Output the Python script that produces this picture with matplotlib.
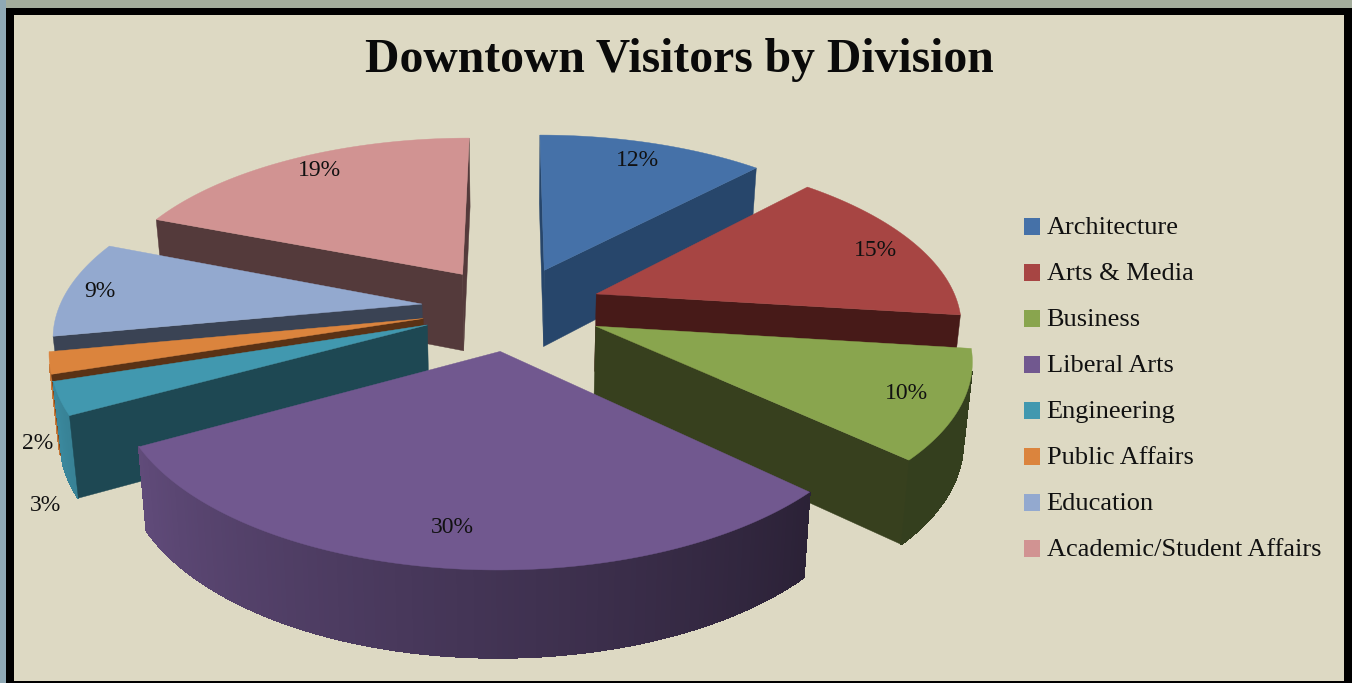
import numpy as np
import matplotlib
matplotlib.use('Agg')
import matplotlib.pyplot as plt
from matplotlib.patches import Polygon, Patch, Rectangle, FancyBboxPatch

divisions = ['Architecture', 'Arts & Media', 'Business', 'Liberal Arts', 'Engineering',
             'Public Affairs', 'Education', 'Academic/Student Affairs']
percent = [12, 15, 10, 30, 3, 2, 9, 19]
top_colors = ['#4571A8', '#A74543', '#89A54E', '#71588F', '#4198AF', '#DB843D', '#93A9CF', '#D19392']
face_colors = ['#27466B', '#471A18', '#37401E', '#2A2038', '#1E4853', '#5A3215', '#3A4354', '#543A3B']

# label placement: radius on the slice, extra drop for the outside ones
label_r = [0.84, 0.88, 0.86, 0.83, 1.035, 1.03, 0.91, 0.825]
label_drop = [-1, 3, 0, 2, 104, 79, 2, -7]

bg = '#DDD9C3'
cx, cy = 512, 308
A, B = 363, 168
k = 0.16
explode = 0.25
depth = 78
shrink = 0.98

def project(u, v, z=0):
    s = 1 / (1 - k * v)
    x = A * u * s
    y = cy + B * v * s + z * depth * (1 + 0.1 * v)
    return cx + x * (1 - z * (1 - shrink)), y

def signed_area(pts):
    xs = np.array([p[0] for p in pts])
    ys = np.array([p[1] for p in pts])
    return np.sum(xs * np.roll(ys, -1) - np.roll(xs, -1) * ys) / 2

def shade(color, f):
    rgb = np.array(matplotlib.colors.to_rgb(color))
    return tuple(rgb * f)

def rim_factor(deg):
    return min(0.9, max(0.38, 0.38 + (deg - 133) / 108 * 0.47))

fig = plt.figure(figsize=(13.52, 6.83), dpi=100, facecolor='black')
ax = fig.add_axes([0, 0, 1, 1])
ax.set_xlim(0, 1352)
ax.set_ylim(683, 0)
ax.axis('off')

# frame
ax.add_patch(Rectangle((0, 0), 1352, 8, color='#A3AD9C', lw=0))
ax.add_patch(Rectangle((0, 0), 6, 683, color='#8FA9B5', lw=0))
ax.add_patch(FancyBboxPatch((6, 8), 1346, 680, boxstyle='round,pad=0,rounding_size=5', fc='black', ec='none'))
ax.add_patch(Rectangle((14, 15), 1330, 666, color=bg, lw=0))

edges = np.cumsum([0] + percent) * 3.6
slices = []
for i in range(len(percent)):
    mid = np.radians((edges[i] + edges[i + 1]) / 2)
    u0 = explode * np.sin(mid)
    v0 = -explode * np.cos(mid)
    slices.append((project(u0, v0)[1], i, u0, v0, mid))

# far slices first
for _, i, u0, v0, mid in sorted(slices):
    th = np.radians(np.linspace(edges[i], edges[i + 1], max(6, int(percent[i] * 5))))
    us = u0 + np.sin(th)
    vs = v0 - np.cos(th)
    top = [project(u0, v0)] + [project(a, b) for a, b in zip(us, vs)]
    # outer rim, shaded by angle
    for j in range(len(th) - 1):
        quad = [project(us[j], vs[j]), project(us[j + 1], vs[j + 1]),
                project(us[j + 1], vs[j + 1], 1), project(us[j], vs[j], 1)]
        if signed_area(quad) < 0:
            c = shade(top_colors[i], rim_factor(np.degrees(th[j])))
            ax.add_patch(Polygon(quad, fc=c, ec=c, lw=0.8, antialiased=False))
    # radial walls, only the ones facing us
    p0, p1 = (u0, v0), (us[0], vs[0])
    p2 = (us[-1], vs[-1])
    for a, b in [(p0, p1), (p2, p0)]:
        wall = [project(*a), project(*b), project(*b, 1), project(*a, 1)]
        if signed_area(wall) < 0:
            ax.add_patch(Polygon(wall, fc=face_colors[i], ec=face_colors[i], lw=0.3))
    ax.add_patch(Polygon(top, fc=top_colors[i], ec=top_colors[i], lw=0.3))

for _, i, u0, v0, mid in slices:
    lx, ly = project(u0 + label_r[i] * np.sin(mid), v0 - label_r[i] * np.cos(mid))
    ax.text(lx, ly + label_drop[i], '%d%%' % percent[i], ha='center', va='center',
            fontsize=17, family='Liberation Serif', color='#111111')

ax.text(679, 72, 'Downtown Visitors by Division', ha='center', va='baseline',
        fontsize=34.3, fontweight='bold', family='Liberation Serif', color='#0a0a0a')

handles = [Patch(fc=c, ec='none') for c in top_colors]
leg = ax.legend(handles, divisions, loc='upper left', bbox_to_anchor=(1000 / 1352, 1 - 194 / 683),
                frameon=False, prop={'family': 'Liberation Serif', 'size': 19},
                handlelength=0.6, handleheight=0.6, handletextpad=0.27, labelspacing=0.885,
                borderpad=0.4, labelcolor='#111111')
for t in leg.get_texts():
    t.set_y(1.5)

fig.savefig('out.png', dpi=100, facecolor='black')
